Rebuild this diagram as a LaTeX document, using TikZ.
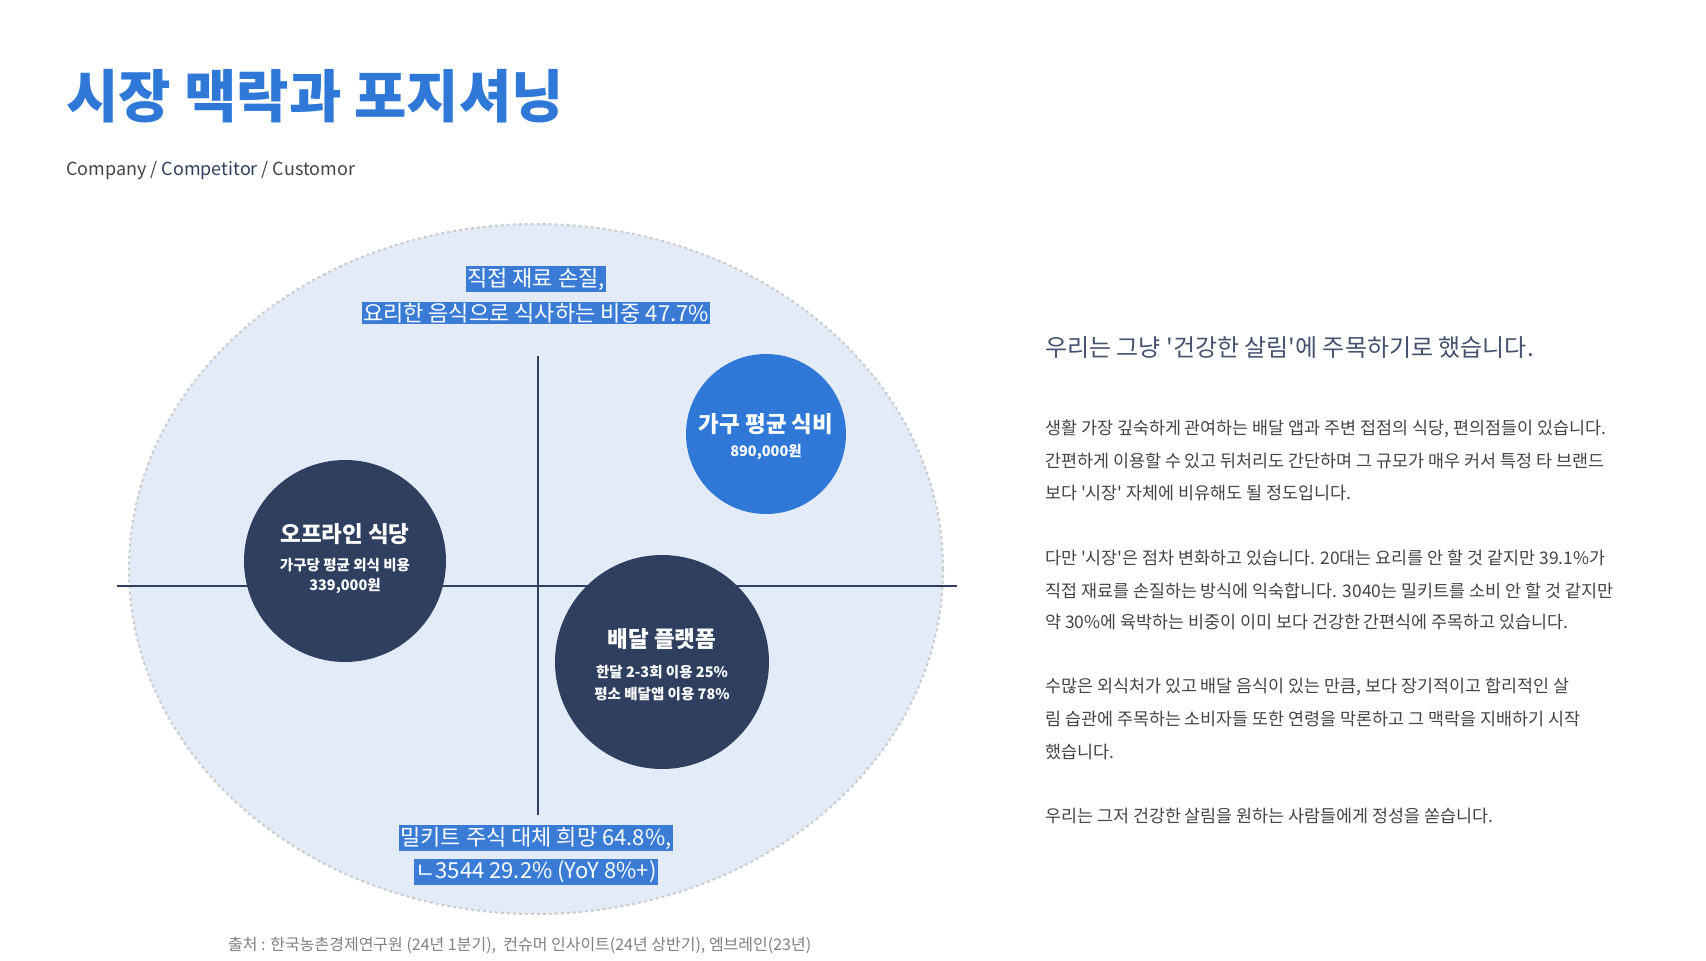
\documentclass[tikz,border=0pt]{standalone}
\usepackage{fontspec}
\usetikzlibrary{shapes.geometric}
\setmainfont{Noto Sans CJK KR}[Ligatures=TeXOff]
\begin{document}
\begin{tikzpicture}[x=1pt,y=-1pt,
  hl/.style={fill=hlblue,text=white,inner sep=1.5pt,font=\fontsize{22}{22}\selectfont},
  ctitle/.style={text=white,font=\fontsize{22.5}{22.5}\selectfont\bfseries},
  csub/.style={text=white,font=\fontsize{14.5}{14.5}\selectfont\bfseries},
  body/.style={anchor=west,text=bodygray,font=\fontsize{17.4}{17.4}\selectfont,inner sep=0pt}]
\definecolor{tblue}{HTML}{2F78D8}
\definecolor{hlblue}{HTML}{3A7BD5}
\definecolor{navy}{HTML}{2F3F5F}
\definecolor{ellfill}{HTML}{E3EBF8}
\definecolor{bodygray}{HTML}{444444}
\useasboundingbox (0,0) rectangle (1706,961);
\fill[white] (0,0) rectangle (1706,961);
\node[anchor=west,text=tblue,font=\fontsize{57}{57}\selectfont\bfseries,inner sep=0pt] (title) at (66,96) {시장 맥락과 포지셔닝};
\node[anchor=west,text=bodygray,font=\fontsize{18}{18}\selectfont,inner sep=0pt] (sub) at (66,170) {Company / \textcolor{navy}{Competitor} / Customor};
\node[ellipse,draw=gray!40,dashed,line width=2pt,fill=ellfill,minimum width=814pt,minimum height=690pt] (ell) at (536,569) {};
\coordinate (hl1) at (117,586); \coordinate (hr1) at (957,586);
\coordinate (vt) at (538,356); \coordinate (vb) at (538,815);
\draw[navy,line width=1.2pt] (hl1) -- (hr1);
\draw[navy,line width=1.2pt] (vt) -- (vb);
\node[hl] (t1) at (536,279) {직접 재료 손질,};
\node[hl] (t2) at (536,313) {요리한 음식으로 식사하는 비중 47.7\%};
\node[hl] (b1) at (536,838) {밀키트 주식 대체 희망 64.8\%,};
\node[hl] (b2) at (536,872) {ㄴ3544 29.2\% (YoY 8\%+)};
\node[circle,fill=tblue,minimum size=160pt] (c1) at (766,434) {};
\node[ctitle] at (766,424) {가구 평균 식비};
\node[csub] at (766,452) {890,000원};
\node[circle,fill=navy,minimum size=202pt] (c2) at (345,561) {};
\node[ctitle] at (345,534) {오프라인 식당};
\node[csub] at (345,565) {가구당 평균 외식 비용};
\node[csub] at (345,586) {339,000원};
\node[circle,fill=navy,minimum size=214pt] (c3) at (662,662) {};
\node[ctitle] at (662,639) {배달 플랫폼};
\node[csub] at (662,672) {한달 2-3회 이용 25\%};
\node[csub] at (662,694) {평소 배달앱 이용 78\%};
\node[anchor=west,text=navy!90,font=\fontsize{24}{24}\selectfont,inner sep=0pt] (h) at (1045,348) {우리는 그냥 '건강한 살림'에 주목하기로 했습니다.};
\node[body] at (1045,429) {생활 가장 깊숙하게 관여하는 배달 앱과 주변 접점의 식당, 편의점들이 있습니다.};
\node[body] at (1045,461) {간편하게 이용할 수 있고 뒤처리도 간단하며 그 규모가 매우 커서 특정 타 브랜드};
\node[body] at (1045,493) {보다 '시장' 자체에 비유해도 될 정도입니다.};
\node[body] at (1045,558) {다만 '시장'은 점차 변화하고 있습니다. 20대는 요리를 안 할 것 같지만 39.1\%가};
\node[body] at (1045,591) {직접 재료를 손질하는 방식에 익숙합니다. 3040는 밀키트를 소비 안 할 것 같지만};
\node[body] at (1045,622) {약 30\%에 육박하는 비중이 이미 보다 건강한 간편식에 주목하고 있습니다.};
\node[body] at (1045,687) {수많은 외식처가 있고 배달 음식이 있는 만큼, 보다 장기적이고 합리적인 살};
\node[body] at (1045,719) {림 습관에 주목하는 소비자들 또한 연령을 막론하고 그 맥락을 지배하기 시작};
\node[body] at (1045,752) {했습니다.};
\node[body] at (1045,816) {우리는 그저 건강한 살림을 원하는 사람들에게 정성을 쏟습니다.};
\node[anchor=west,text=gray,font=\fontsize{16}{16}\selectfont,inner sep=0pt] (src) at (228,945) {출처 : 한국농촌경제연구원 (24년 1분기),\ \ 컨슈머 인사이트(24년 상반기), 엠브레인(23년)};
\end{tikzpicture}
\end{document}
